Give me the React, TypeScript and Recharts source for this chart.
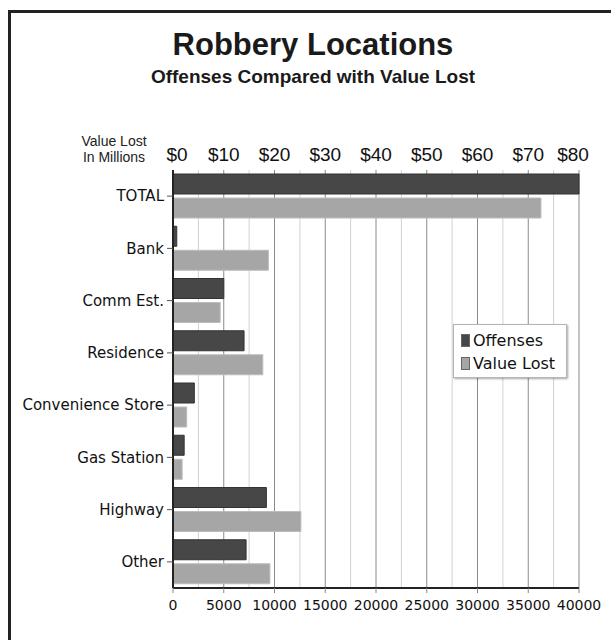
import React from "react"
import { BarChart, Bar, XAxis, YAxis, CartesianGrid, Legend } from "recharts"

const categories = ["TOTAL", "Bank", "Comm Est.", "Residence", "Convenience Store", "Gas Station", "Highway", "Other"]
const offenses = [40000, 370, 5000, 7000, 2100, 1100, 9200, 7200]
const valueLost = [72.5, 18.8, 9.3, 17.7, 2.7, 1.8, 25.2, 19.1]

const offenseTicks = [0, 5000, 10000, 15000, 20000, 25000, 30000, 35000, 40000]
const minorTicks = [2500, 7500, 12500, 17500, 22500, 27500, 32500, 37500]
const valueTicks = [0, 10, 20, 30, 40, 50, 60, 70, 80]

const data = categories.map((name, i) => ({ name, offenses: offenses[i], valueLost: valueLost[i] }))

const SANS = "'Liberation Sans', Arial, Helvetica, sans-serif"
const LUCIDA = "'DejaVu Sans', sans-serif"

function TopTick(props: any) {
  const { x, payload } = props
  // edge labels sit a little inside the plot, like the original
  let dx = 0
  if (payload.value === 0) dx = 4
  if (payload.value === 80) dx = -6
  return (
    <text x={x + dx} y={161} textAnchor="middle" fontFamily={SANS} fontSize={19} fill="#111">
      ${payload.value}
    </text>
  )
}

function LegendBox(props: any) {
  const items = props.payload || []
  return (
    <div
      style={{
        width: 114,
        height: 54,
        background: "#fff",
        border: "1px solid #b5b5b5",
        boxShadow: "1px 1px 2px rgba(0,0,0,0.35)",
        boxSizing: "border-box",
        padding: "4px 0 0 7px",
        fontFamily: LUCIDA,
        fontSize: 16,
        color: "#111",
        textAlign: "left",
      }}
    >
      {items.map((it: any) => (
        <div key={it.value} style={{ display: "flex", alignItems: "center", height: 23 }}>
          <span
            style={{
              display: "inline-block",
              width: 9,
              height: 13,
              background: it.color,
              border: "1px solid #666",
              boxSizing: "border-box",
              marginRight: 3,
            }}
          />
          <span style={{ lineHeight: "16px" }}>{it.value}</span>
        </div>
      ))}
    </div>
  )
}

export default function App() {
  return (
    <div style={{ position: "fixed", left: 0, top: 0, width: 611, height: 640, background: "#fff", overflow: "hidden" }}>
      <div
        style={{
          position: "absolute",
          left: 8,
          top: 10,
          width: 700,
          height: 700,
          borderLeft: "3px solid #222",
          borderTop: "3px solid #222",
        }}
      />
      <svg width={611} height={170} style={{ position: "absolute", left: 0, top: 0 }}>
        <text x={313} y={55} textAnchor="middle" fontFamily={SANS} fontWeight="bold" fontSize={31} fill="#1a1a1a">
          Robbery Locations
        </text>
        <text x={313} y={83} textAnchor="middle" fontFamily={SANS} fontWeight="bold" fontSize={19} fill="#1a1a1a">
          Offenses Compared with Value Lost
        </text>
        <text x={114} y={146} textAnchor="middle" fontFamily={SANS} fontSize={14} fill="#222">
          Value Lost
        </text>
        <text x={114} y={162} textAnchor="middle" fontFamily={SANS} fontSize={14} fill="#222">
          In Millions
        </text>
      </svg>
      <div style={{ position: "absolute", left: 0, top: 0 }}>
        <BarChart
          width={611}
          height={640}
          data={data}
          layout="vertical"
          margin={{ top: 140, right: 32, bottom: 22, left: 0 }}
          barCategoryGap={4}
          barGap={4}
        >
          <CartesianGrid xAxisId="off" horizontal={false} stroke="#d2d2d2" verticalValues={minorTicks} />
          <CartesianGrid xAxisId="off" horizontal={false} stroke="#8a8a8a" />
          <XAxis
            xAxisId="val"
            type="number"
            orientation="top"
            domain={[0, 80]}
            ticks={valueTicks}
            height={30}
            axisLine={false}
            tickLine={false}
            tick={<TopTick />}
          />
          <XAxis
            xAxisId="off"
            type="number"
            orientation="bottom"
            domain={[0, 40000]}
            ticks={offenseTicks}
            height={30}
            axisLine={{ stroke: "#222", strokeWidth: 2 }}
            tickLine={{ stroke: "#888" }}
            tickSize={5}
            tickMargin={7}
            tick={{ fontFamily: LUCIDA, fontSize: 14, fill: "#111" }}
          />
          <YAxis
            type="category"
            dataKey="name"
            width={173}
            axisLine={{ stroke: "#222", strokeWidth: 2 }}
            tickLine={{ stroke: "#555" }}
            tickSize={6}
            tickMargin={3}
            interval={0}
            tick={{ fontFamily: LUCIDA, fontSize: 15, fill: "#111" }}
          />
          <Legend
            layout="vertical"
            align="center"
            verticalAlign="middle"
            content={<LegendBox />}
            wrapperStyle={{ position: "absolute", left: 453, top: 324, width: 114, height: 54 }}
          />
          <Bar
            xAxisId="off"
            dataKey="offenses"
            name="Offenses"
            fill="#474747"
            stroke="#333"
            strokeWidth={1}
            isAnimationActive={false}
          />
          <Bar
            xAxisId="val"
            dataKey="valueLost"
            name="Value Lost"
            fill="#a6a6a6"
            stroke="#bcbcbc"
            strokeWidth={1}
            isAnimationActive={false}
          />
        </BarChart>
      </div>
    </div>
  )
}
